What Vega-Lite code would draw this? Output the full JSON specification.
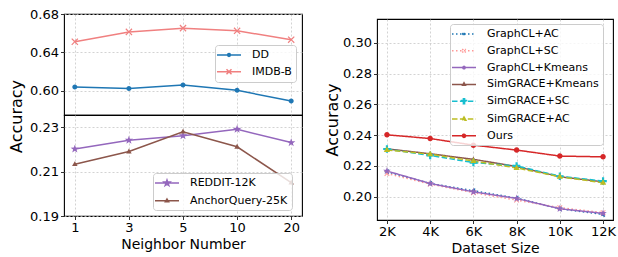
{
  "$schema": "https://vega.github.io/schema/vega-lite/v6.json",
  "padding": {"left": 8, "top": 7, "right": 0, "bottom": 0},
  "autosize": {"type": "pad"},
  "datasets": {
    "top": [
      {"n": "1", "series": "DD", "acc": 0.6042},
      {"n": "3", "series": "DD", "acc": 0.6025},
      {"n": "5", "series": "DD", "acc": 0.6063},
      {"n": "10", "series": "DD", "acc": 0.6007},
      {"n": "20", "series": "DD", "acc": 0.5895},
      {"n": "1", "series": "IMDB-B", "acc": 0.6512},
      {"n": "3", "series": "IMDB-B", "acc": 0.6614},
      {"n": "5", "series": "IMDB-B", "acc": 0.6653},
      {"n": "10", "series": "IMDB-B", "acc": 0.6625},
      {"n": "20", "series": "IMDB-B", "acc": 0.6533}
    ],
    "bottom": [
      {"n": "1", "series": "REDDIT-12K", "acc": 0.2201},
      {"n": "3", "series": "REDDIT-12K", "acc": 0.2241},
      {"n": "5", "series": "REDDIT-12K", "acc": 0.2261},
      {"n": "10", "series": "REDDIT-12K", "acc": 0.229},
      {"n": "20", "series": "REDDIT-12K", "acc": 0.223},
      {"n": "1", "series": "AnchorQuery-25K", "acc": 0.2133},
      {"n": "3", "series": "AnchorQuery-25K", "acc": 0.219},
      {"n": "5", "series": "AnchorQuery-25K", "acc": 0.2279},
      {"n": "10", "series": "AnchorQuery-25K", "acc": 0.2211},
      {"n": "20", "series": "AnchorQuery-25K", "acc": 0.205}
    ],
    "size": [
      {"size": "2K", "series": "GraphCL+AC", "acc": 0.2162},
      {"size": "4K", "series": "GraphCL+AC", "acc": 0.2086},
      {"size": "6K", "series": "GraphCL+AC", "acc": 0.2039},
      {"size": "8K", "series": "GraphCL+AC", "acc": 0.1991},
      {"size": "10K", "series": "GraphCL+AC", "acc": 0.1922},
      {"size": "12K", "series": "GraphCL+AC", "acc": 0.1885},
      {"size": "2K", "series": "GraphCL+SC", "acc": 0.2151},
      {"size": "4K", "series": "GraphCL+SC", "acc": 0.2082},
      {"size": "6K", "series": "GraphCL+SC", "acc": 0.2026},
      {"size": "8K", "series": "GraphCL+SC", "acc": 0.1978},
      {"size": "10K", "series": "GraphCL+SC", "acc": 0.1929},
      {"size": "12K", "series": "GraphCL+SC", "acc": 0.1897},
      {"size": "2K", "series": "GraphCL+Kmeans", "acc": 0.2167},
      {"size": "4K", "series": "GraphCL+Kmeans", "acc": 0.2086},
      {"size": "6K", "series": "GraphCL+Kmeans", "acc": 0.2032},
      {"size": "8K", "series": "GraphCL+Kmeans", "acc": 0.1989},
      {"size": "10K", "series": "GraphCL+Kmeans", "acc": 0.1922},
      {"size": "12K", "series": "GraphCL+Kmeans", "acc": 0.1892},
      {"size": "2K", "series": "SimGRACE+Kmeans", "acc": 0.2311},
      {"size": "4K", "series": "SimGRACE+Kmeans", "acc": 0.2279},
      {"size": "6K", "series": "SimGRACE+Kmeans", "acc": 0.2243},
      {"size": "8K", "series": "SimGRACE+Kmeans", "acc": 0.2196},
      {"size": "10K", "series": "SimGRACE+Kmeans", "acc": 0.213},
      {"size": "12K", "series": "SimGRACE+Kmeans", "acc": 0.2097},
      {"size": "2K", "series": "SimGRACE+SC", "acc": 0.231},
      {"size": "4K", "series": "SimGRACE+SC", "acc": 0.2268},
      {"size": "6K", "series": "SimGRACE+SC", "acc": 0.2222},
      {"size": "8K", "series": "SimGRACE+SC", "acc": 0.22},
      {"size": "10K", "series": "SimGRACE+SC", "acc": 0.2133},
      {"size": "12K", "series": "SimGRACE+SC", "acc": 0.2102},
      {"size": "2K", "series": "SimGRACE+AC", "acc": 0.2303},
      {"size": "4K", "series": "SimGRACE+AC", "acc": 0.2276},
      {"size": "6K", "series": "SimGRACE+AC", "acc": 0.2232},
      {"size": "8K", "series": "SimGRACE+AC", "acc": 0.2187},
      {"size": "10K", "series": "SimGRACE+AC", "acc": 0.213},
      {"size": "12K", "series": "SimGRACE+AC", "acc": 0.2091},
      {"size": "2K", "series": "Ours", "acc": 0.2402},
      {"size": "4K", "series": "Ours", "acc": 0.2378},
      {"size": "6K", "series": "Ours", "acc": 0.2335},
      {"size": "8K", "series": "Ours", "acc": 0.2303},
      {"size": "10K", "series": "Ours", "acc": 0.2264},
      {"size": "12K", "series": "Ours", "acc": 0.2259}
    ]
  },
  "hconcat": [
    {
      "vconcat": [
        {
          "width": 238,
          "height": 101,
          "data": {"name": "top"},
          "encoding": {
            "x": {"field": "n", "type": "ordinal", "scale": {"type": "point", "domain": ["1", "3", "5", "10", "20"], "padding": 0.2}, "axis": {"labels": false, "ticks": false, "title": null, "grid": true}},
            "y": {"field": "acc", "type": "quantitative", "scale": {"domain": [0.575, 0.68], "nice": false, "zero": false}, "axis": {"values": [0.6, 0.64, 0.68], "format": ".2f", "title": "Accuracy", "titleY": 102, "titlePadding": 5, "titleFontSize": 16, "grid": true}},
            "color": {"field": "series", "type": "nominal", "scale": {"domain": ["DD", "IMDB-B"], "range": ["#1f77b4", "#f08080"]},
              "legend": {"title": null, "orient": "none", "legendX": 151, "legendY": 31,
                "symbolType": {"expr": "datum.value === 'DD' ? 'M-2.4,0H2.4M0.28,0A0.28,0.28,0,1,1,-0.28,0A0.28,0.28,0,1,1,0.28,0Z' : 'M-2.4,0H2.4M-0.5,-0.5L0.5,0.5M-0.5,0.5L0.5,-0.5'"}}}
          },
          "layer": [
            {"mark": {"type": "line", "strokeWidth": 1.5}},
            {
              "mark": {"type": "point", "size": 100, "opacity": 1, "filled": true},
              "encoding": {
                "shape": {"field": "series", "type": "nominal", "scale": {"domain": ["IMDB-B", "DD"], "range": ["M0,-0.17L0.535,-0.705L0.705,-0.535L0.17,0L0.705,0.535L0.535,0.705L0,0.17L-0.535,0.705L-0.705,0.535L-0.17,0L-0.705,-0.535L-0.535,-0.705Z", "M0.5,0A0.5,0.5,0,1,1,-0.5,0A0.5,0.5,0,1,1,0.5,0Z"]}, "legend": null}
              }
            }
          ]
        },
        {
          "width": 238,
          "height": 101,
          "data": {"name": "bottom"},
          "encoding": {
            "x": {"field": "n", "type": "ordinal", "scale": {"type": "point", "domain": ["1", "3", "5", "10", "20"], "padding": 0.2}, "axis": {"labelAngle": 0, "title": "Neighbor Number", "grid": true}},
            "y": {"field": "acc", "type": "quantitative", "scale": {"domain": [0.19, 0.2354], "nice": false, "zero": false}, "axis": {"values": [0.19, 0.21, 0.23], "format": ".2f", "title": null, "grid": true}},
            "color": {"field": "series", "type": "nominal", "scale": {"domain": ["REDDIT-12K", "AnchorQuery-25K"], "range": ["#9467bd", "#8c564b"]},
              "legend": {"title": null, "orient": "none", "legendX": 89, "legendY": 58,
                "symbolType": {"expr": "datum.value === 'REDDIT-12K' ? 'M-2.4,0H2.4M0,-0.6L0.141,-0.194L0.571,-0.185L0.228,0.074L0.353,0.485L0,0.24L-0.353,0.485L-0.228,0.074L-0.571,-0.185L-0.141,-0.194Z' : 'M-2.4,0H2.4M0,-0.35L0.32,0.21L-0.32,0.21Z'"}}}
          },
          "layer": [
            {"mark": {"type": "line", "strokeWidth": 1.5}},
            {
              "mark": {"type": "point", "size": 100, "opacity": 1, "filled": true},
              "encoding": {
                "shape": {"field": "series", "type": "nominal", "scale": {"domain": ["AnchorQuery-25K", "REDDIT-12K"], "range": ["M0,-0.6L0.55,0.38L-0.55,0.38Z", "M0,-0.88L0.207,-0.285L0.837,-0.272L0.334,0.109L0.517,0.712L0,0.352L-0.517,0.712L-0.334,0.109L-0.837,-0.272L-0.207,-0.285Z"]}, "legend": null}
              }
            }
          ]
        }
      ],
      "spacing": 0,
      "bounds": "flush",
      "resolve": {"scale": {"color": "independent", "shape": "independent"}}
    },
    {
      "vconcat": [
        {
          "width": 236,
          "height": 5,
          "data": {"values": [{"k": 0}]},
          "mark": {"type": "point", "opacity": 0},
          "encoding": {},
          "view": {"stroke": null}
        },
        {
          "width": 236,
          "height": 201,
          "data": {"name": "size"},
          "encoding": {
            "x": {"field": "size", "type": "ordinal", "scale": {"type": "point", "domain": ["2K", "4K", "6K", "8K", "10K", "12K"], "padding": 0.23}, "axis": {"labelAngle": 0, "title": "Dataset Size", "grid": true}},
            "y": {"field": "acc", "type": "quantitative", "scale": {"domain": [0.1849, 0.3154], "nice": false, "zero": false}, "axis": {"values": [0.2, 0.22, 0.24, 0.26, 0.28, 0.3], "format": ".2f", "title": "Accuracy", "titleFontSize": 16, "titlePadding": 2, "grid": true}},
            "color": {"field": "series", "type": "nominal", "scale": {"domain": ["GraphCL+AC", "GraphCL+SC", "GraphCL+Kmeans", "SimGRACE+Kmeans", "SimGRACE+SC", "SimGRACE+AC", "Ours"], "range": ["#1f77b4", "#ff9896", "#9467bd", "#8c564b", "#17becf", "#bcbd22", "#d62728"]},
              "legend": {"title": null, "orient": "none", "legendX": 73, "legendY": 10,
                "symbolType": {"expr": "'M-2.4,0H2.4' + (datum.value === 'GraphCL+AC' ? 'M-0.35,0L0.21,-0.32L0.21,0.32Z' : datum.value === 'GraphCL+SC' ? 'M-0.35,-0.35L0.35,0.35M-0.35,0.35L0.35,-0.35' : datum.value === 'GraphCL+Kmeans' ? 'M0.25,0A0.25,0.25,0,1,1,-0.25,0A0.25,0.25,0,1,1,0.25,0Z' : datum.value === 'SimGRACE+Kmeans' ? 'M0,-0.32L0.28,0.19L-0.28,0.19Z' : datum.value === 'SimGRACE+SC' ? 'M-0.12,-0.5H0.12V-0.12H0.5V0.12H0.12V0.5H-0.12V0.12H-0.5V-0.12H-0.12Z' : datum.value === 'SimGRACE+AC' ? 'M0,-0.42L0.38,0.25L-0.38,0.25Z' : 'M0.32,0A0.32,0.32,0,1,1,-0.32,0A0.32,0.32,0,1,1,0.32,0Z')"}}}
          },
          "layer": [
            {
              "mark": {"type": "line", "strokeWidth": 1.5},
              "encoding": {
                "strokeDash": {"field": "series", "type": "nominal", "scale": {"domain": ["GraphCL+AC", "GraphCL+SC", "GraphCL+Kmeans", "SimGRACE+Kmeans", "SimGRACE+SC", "SimGRACE+AC", "Ours"], "range": [[1.5, 2.5], [1.5, 2.5], [1, 0], [1, 0], [5.5, 2.4], [5.5, 2.4], [1, 0]]}}
              }
            },
            {
              "mark": {"type": "point", "size": 100, "opacity": 1, "filled": true},
              "encoding": {
                "shape": {"field": "series", "type": "nominal", "scale": {"domain": ["Ours", "GraphCL+AC", "GraphCL+SC", "GraphCL+Kmeans", "SimGRACE+Kmeans", "SimGRACE+SC", "SimGRACE+AC"], "range": ["M0.55,0A0.55,0.55,0,1,1,-0.55,0A0.55,0.55,0,1,1,0.55,0Z", "M-0.6,0L0.36,-0.54L0.36,0.54Z", "M0,-0.13L0.4,-0.53L0.53,-0.4L0.13,0L0.53,0.4L0.4,0.53L0,0.13L-0.4,0.53L-0.53,0.4L-0.13,0L-0.53,-0.4L-0.4,-0.53Z", "M0,-0.8L0.188,-0.259L0.761,-0.247L0.304,0.099L0.47,0.647L0,0.32L-0.47,0.647L-0.304,0.099L-0.761,-0.247L-0.188,-0.259Z", "M0,-0.55L0.48,0.32L-0.48,0.32Z", "M-0.22,-0.75H0.22V-0.22H0.75V0.22H0.22V0.75H-0.22V0.22H-0.75V-0.22H-0.22Z", "M0,-0.7L0.62,0.4L-0.62,0.4Z"]}, "legend": null}
              }
            }
          ]
        }
      ],
      "spacing": 0,
      "bounds": "flush"
    }
  ],
  "spacing": 313,
  "bounds": "flush",
  "resolve": {"scale": {"color": "independent", "shape": "independent", "strokeDash": "independent"}},
  "config": {
    "font": "DejaVu Sans",
    "view": {"stroke": "black", "strokeWidth": 1.1},
    "axis": {"domain": false, "tickColor": "black", "tickSize": 3.5, "tickWidth": 0.8, "labelFontSize": 13, "labelColor": "black", "labelPadding": 2, "titleFontSize": 14, "titleFontWeight": "normal", "titleColor": "black", "titlePadding": 3, "gridColor": "#c8c8c8", "gridDash": [2, 2], "gridWidth": 0.8},
    "legend": {"labelFontSize": 11, "labelColor": "black", "fillColor": "rgba(255,255,255,0.8)", "strokeColor": "#cccccc", "cornerRadius": 3, "padding": 4, "symbolSize": 100, "symbolStrokeWidth": 1.5, "symbolOffset": 4, "labelOffset": 17, "rowPadding": 5.8, "symbolOpacity": 1, "labelLimit": 300}
  }
}
